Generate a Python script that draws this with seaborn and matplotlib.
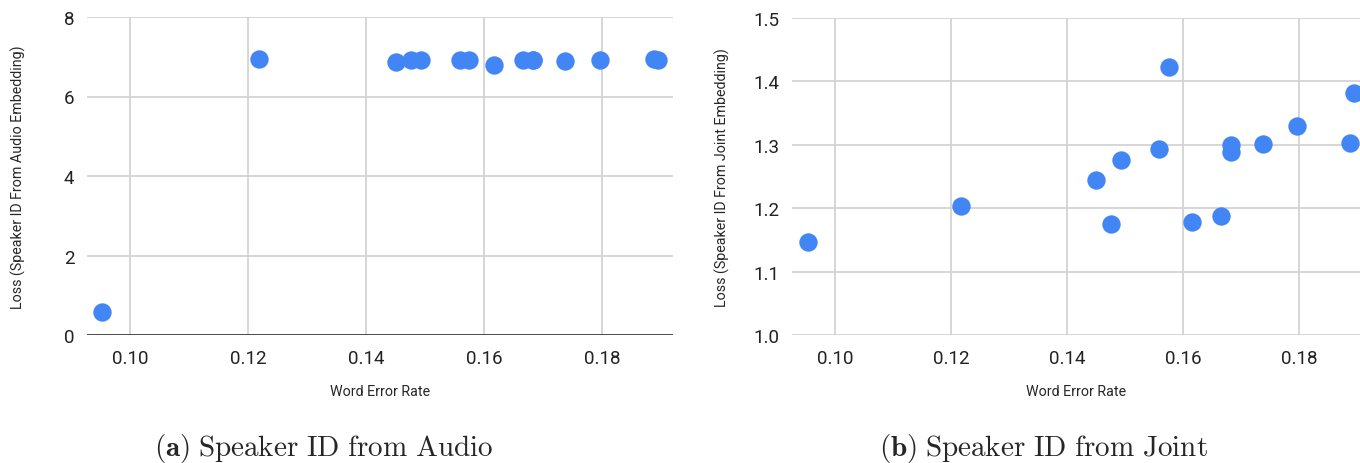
import matplotlib
matplotlib.use("Agg")
import matplotlib.pyplot as plt
import seaborn as sns
import pandas as pd

# Werte
wer = [0.0953, 0.1218, 0.1450, 0.1476, 0.1493, 0.1559, 0.1575, 0.1616,
       0.1666, 0.1682, 0.1683, 0.1737, 0.1796, 0.1888, 0.1895]
loss_audio = [0.58, 6.94, 6.86, 6.92, 6.92, 6.93, 6.91, 6.78,
              6.91, 6.91, 6.92, 6.90, 6.91, 6.94, 6.92]
loss_joint = [1.146, 1.204, 1.245, 1.175, 1.276, 1.293, 1.422, 1.179,
              1.187, 1.300, 1.289, 1.301, 1.329, 1.303, 1.382]

x_ticks = [0.10, 0.12, 0.14, 0.16, 0.18]
y_ticks_audio = [0, 2, 4, 6, 8]
y_ticks_joint = [1.0, 1.1, 1.2, 1.3, 1.4, 1.5]

df = pd.DataFrame({'WER': wer, 'Audio': loss_audio, 'Joint': loss_joint})

sns.set_theme(style='white')
plt.rcParams['font.family'] = ['Roboto', 'DejaVu Sans']
plt.rcParams['mathtext.fontset'] = 'cm'

BLUE = '#4285F4'
GRID = '#d0d0d0'

fig = plt.figure(figsize=(13.6, 4.64), dpi=100)
W, H = 1360, 464
ax1 = fig.add_axes([87 / W, 1 - 336 / H, (673 - 87) / W, (336 - 18) / H])
ax2 = fig.add_axes([792 / W, 1 - 336 / H, (1360 - 792) / W, (336 - 19) / H])


def style_axis(ax, yticks, ylim, xlim, ylabel, fmt, dark_base, ypad):
    ax.set_xlim(*xlim)
    ax.set_ylim(*ylim)
    ax.set_xticks(x_ticks)
    ax.set_xticklabels([f"{t:.2f}" for t in x_ticks])
    ax.set_yticks(yticks)
    ax.set_yticklabels([fmt.format(t) for t in yticks])
    ax.grid(True, color=GRID, linewidth=1.2)
    ax.set_axisbelow(True)
    for s in ax.spines.values():
        s.set_visible(False)
    if dark_base:
        ax.axhline(ylim[0], color='#333333', linewidth=1.2, zorder=1)
    ax.tick_params(axis='both', length=0, labelsize=13.5, colors='#222222')
    ax.tick_params(axis='x', pad=10)
    ax.tick_params(axis='y', pad=9)
    ax.set_xlabel('Word Error Rate', fontsize=10.3, labelpad=12)
    ax.set_ylabel(ylabel, fontsize=10.3, labelpad=ypad)


sns.scatterplot(data=df, x='WER', y='Audio', ax=ax1, color=BLUE, s=175,
                linewidth=0, zorder=3, clip_on=False)
style_axis(ax1, y_ticks_audio, (0, 8), (0.0927, 0.192),
           'Loss (Speaker ID From Audio Embedding)', '{:.0f}', True, 27)

sns.scatterplot(data=df, x='WER', y='Joint', ax=ax2, color=BLUE, s=175,
                linewidth=0, zorder=3, clip_on=False)
style_axis(ax2, y_ticks_joint, (1.0, 1.5), (0.0926, 0.1905),
           'Loss (Speaker ID From Joint Embedding)', '{:.1f}', False, 17)

fig.text(324 / W, 1 - 449 / H, r'$\mathbf{(a)}$ $\mathrm{Speaker\ ID\ from\ Audio}$',
         ha='center', va='center', fontsize=21)
fig.text(1043 / W, 1 - 449 / H, r'$\mathbf{(b)}$ $\mathrm{Speaker\ ID\ from\ Joint}$',
         ha='center', va='center', fontsize=21)

fig.savefig('out.png', dpi=100)
